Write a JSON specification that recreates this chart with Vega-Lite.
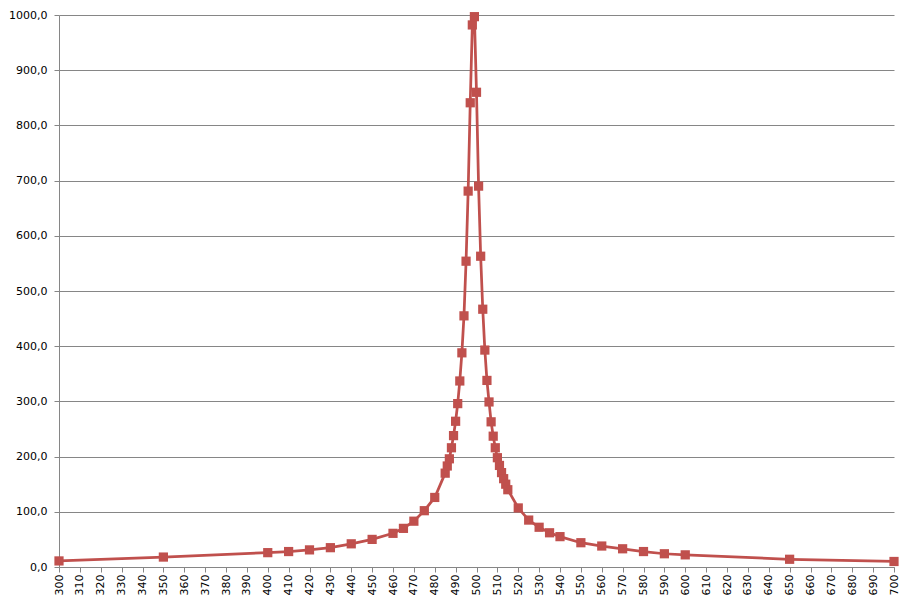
{
  "$schema": "https://vega.github.io/schema/vega-lite/v6.json",
  "width": 835,
  "height": 552,
  "autosize": "none",
  "padding": {"left": 59, "top": 15, "right": 17, "bottom": 40},
  "background": "white",
  "config": {
    "view": {"stroke": null},
    "font": "DejaVu Sans",
    "axis": {
      "labelFont": "DejaVu Sans",
      "labelFontSize": 11,
      "labelColor": "#000000",
      "domainColor": "#868686",
      "tickColor": "#868686",
      "gridColor": "#868686",
      "gridOpacity": 1,
      "gridWidth": 1,
      "domainWidth": 1,
      "tickWidth": 1
    }
  },
  "data": {
    "values": [
      {"x": 300, "y": 11},
      {"x": 350, "y": 18},
      {"x": 400, "y": 26},
      {"x": 410, "y": 28},
      {"x": 420, "y": 31},
      {"x": 430, "y": 35},
      {"x": 440, "y": 42},
      {"x": 450, "y": 50},
      {"x": 460, "y": 61},
      {"x": 465, "y": 70},
      {"x": 470, "y": 83},
      {"x": 475, "y": 102},
      {"x": 480, "y": 126},
      {"x": 485, "y": 170},
      {"x": 486, "y": 183},
      {"x": 487, "y": 196},
      {"x": 488, "y": 216},
      {"x": 489, "y": 238},
      {"x": 490, "y": 264},
      {"x": 491, "y": 296},
      {"x": 492, "y": 337},
      {"x": 493, "y": 388},
      {"x": 494, "y": 455},
      {"x": 495, "y": 554},
      {"x": 496, "y": 681},
      {"x": 497, "y": 841},
      {"x": 498, "y": 982},
      {"x": 499, "y": 997},
      {"x": 500, "y": 860},
      {"x": 501, "y": 690},
      {"x": 502, "y": 563},
      {"x": 503, "y": 467},
      {"x": 504, "y": 393},
      {"x": 505, "y": 338},
      {"x": 506, "y": 299},
      {"x": 507, "y": 263},
      {"x": 508, "y": 237},
      {"x": 509, "y": 216},
      {"x": 510, "y": 198},
      {"x": 511, "y": 184},
      {"x": 512, "y": 171},
      {"x": 513, "y": 160},
      {"x": 514, "y": 150},
      {"x": 515, "y": 140},
      {"x": 520, "y": 107},
      {"x": 525, "y": 85},
      {"x": 530, "y": 72},
      {"x": 535, "y": 62},
      {"x": 540, "y": 55},
      {"x": 550, "y": 44},
      {"x": 560, "y": 38},
      {"x": 570, "y": 33},
      {"x": 580, "y": 28},
      {"x": 590, "y": 24},
      {"x": 600, "y": 22},
      {"x": 650, "y": 14},
      {"x": 700, "y": 10}
    ]
  },
  "mark": {
    "type": "line",
    "color": "#C0504D",
    "strokeWidth": 2.75,
    "point": {"shape": "square", "size": 85, "filled": true, "color": "#C0504D", "opacity": 1}
  },
  "encoding": {
    "x": {
      "field": "x",
      "type": "quantitative",
      "scale": {"domain": [300, 700], "nice": false, "zero": false},
      "axis": {
        "title": null,
        "grid": false,
        "values": [300,310,320,330,340,350,360,370,380,390,400,410,420,430,440,450,460,470,480,490,500,510,520,530,540,550,560,570,580,590,600,610,620,630,640,650,660,670,680,690,700],
        "labelAngle": -90,
        "labelAlign": "right",
        "labelBaseline": "middle",
        "tickSize": 5,
        "labelPadding": 2,
        "labelOverlap": false,
        "labelFlush": false
      }
    },
    "y": {
      "field": "y",
      "type": "quantitative",
      "scale": {"domain": [0, 1000], "nice": false},
      "axis": {
        "title": null,
        "values": [0,100,200,300,400,500,600,700,800,900,1000],
        "labelExpr": "replace(format(datum.value, '.1f'), '.', ',')",
        "tickSize": 5,
        "labelPadding": 7,
        "labelFlush": false
      }
    }
  }
}
